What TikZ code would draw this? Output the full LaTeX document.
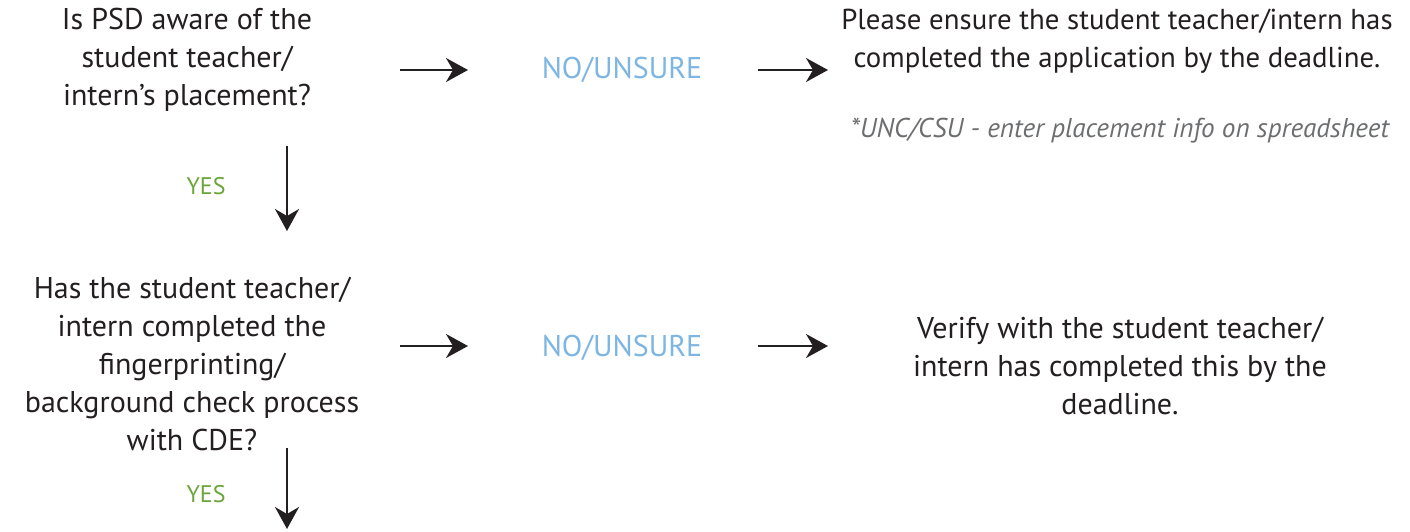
\documentclass[tikz,border=0pt]{standalone}
\usepackage{fontspec}
\setmainfont{PT Sans}
\usetikzlibrary{arrows.meta}
\definecolor{nocol}{HTML}{7DB6E3}
\definecolor{yescol}{HTML}{6BA539}
\definecolor{notecol}{HTML}{6D6E70}
\definecolor{inkcol}{HTML}{231F20}
\tikzset{
    txt/.style={align=center, font=\fontsize{15}{19}\selectfont, text=inkcol},
    nolab/.style={font=\fontsize{15}{19}\selectfont, text=nocol},
    yeslab/.style={font=\fontsize{12}{14}\selectfont, text=yescol},
    arr/.style={-{Stealth[length=11pt, width=12pt, inset=3.5pt]}, line width=1pt, inkcol}
}
\begin{document}
\begin{tikzpicture}[x=0.5pt, y=-0.5pt]
        \useasboundingbox (0, 0) rectangle (1410, 531);
        % first question
        \node[txt] (q1) at (187, 60) {Is PSD aware of the\\student teacher/\\intern’s placement?};
        \node[nolab] (no1) at (622, 70) {NO/UNSURE};
        \node[txt, font=\fontsize{14.4}{19}\selectfont] (r1) at (1117, 41) {Please ensure the student teacher/intern has\\completed the application by the deadline.};
        \node[txt, font=\fontsize{13.6}{15}\selectfont\itshape, text=notecol] (note) at (1120, 131) {*UNC/CSU - enter placement info on spreadsheet};
        \node[yeslab] (yes1) at (206, 186) {YES};
        % second question
        \node[txt] (q2) at (192, 364) {Has the student teacher/\\intern completed the\\fingerprinting/\\background check process\\with CDE?};
        \node[nolab] (no2) at (622, 348) {NO/UNSURE};
        \node[txt] (r2) at (1120, 366) {Verify with the student teacher/\\intern has completed this by the\\deadline.};
        \node[yeslab] (yes2) at (206, 494) {YES};
        % arrow ends
        \coordinate (a1s) at (400, 70);
        \coordinate (a1e) at (468, 70);
        \coordinate (a2s) at (758, 70);
        \coordinate (a2e) at (828, 70);
        \coordinate (d1s) at (287, 146);
        \coordinate (d1e) at (287, 231);
        \coordinate (a3s) at (400, 346);
        \coordinate (a3e) at (468, 346);
        \coordinate (a4s) at (758, 346);
        \coordinate (a4e) at (828, 346);
        \coordinate (d2s) at (287, 448);
        \coordinate (d2e) at (287, 529);
        \draw[arr] (a1s) -- (a1e);
        \draw[arr] (a2s) -- (a2e);
        \draw[arr] (d1s) -- (d1e);
        \draw[arr] (a3s) -- (a3e);
        \draw[arr] (a4s) -- (a4e);
        \draw[arr] (d2s) -- (d2e);
    \end{tikzpicture}
\end{document}
